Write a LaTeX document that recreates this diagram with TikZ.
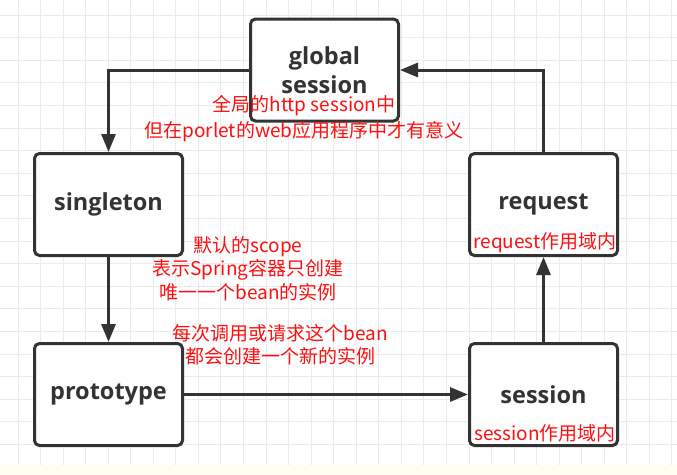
\documentclass[tikz,border=0pt]{standalone}
\usepackage{fontspec}
\usetikzlibrary{arrows.meta}
\newfontfamily\cjk{Noto Sans CJK SC}
\newfontfamily\labfont{Open Sans}
\definecolor{boxline}{HTML}{333333}
\definecolor{gridc}{HTML}{EBEBEB}
\definecolor{strip}{HTML}{FFFDF0}
\definecolor{notered}{HTML}{FF1010}
\tikzset{
  scopebox/.style={draw=boxline, line width=3pt, rounded corners=5pt, fill=white,
    minimum width=148pt, minimum height=102pt, inner sep=0pt,
    font=\labfont\bfseries\fontsize{23.5}{29}\selectfont, text=boxline, align=center},
  conn/.style={draw=boxline, line width=3pt, -{Triangle[length=18pt,width=14pt]}},
  note/.style={inner sep=0pt, text=notered, align=center, font=\cjk\fontsize{19}{23.5}\selectfont},
  gridline/.style={draw=gridc, line width=1pt}
}
\begin{document}
\begin{tikzpicture}[x=1pt,y=-1pt]
\useasboundingbox (0,0) rectangle (677,474);
\fill[white] (0,0) rectangle (677,474);
\fill[strip] (0,465) rectangle (677,474);
\foreach \i in {0,...,29} \draw[gridline] ({18+22.55*\i},0) -- ({18+22.55*\i},465);
\foreach \j in {0,...,19} \draw[gridline] (0,{15+22.6*\j}) -- (677,{15+22.6*\j});

\node[scopebox] (global) at (324.5,70) {global\\session};
\node[scopebox] (singleton) at (108.5,204.5) {singleton};
\node[scopebox] (request) at (543.5,204.5) {request};
\node[scopebox] (prototype) at (108.5,394.5) {prototype};
\node[scopebox] (session) at (543.5,394.5) {session};

\draw[conn] (global.west) -| (singleton.north);
\draw[conn] (request.north) |- (global.east);
\draw[conn] (singleton.south) -- (prototype.north);
\draw[conn] (prototype.east) -- (session.west);
\draw[conn] (session.north) -- (request.south);

\node[note, font=\cjk\fontsize{19}{26}\selectfont] (gsnote) at (304,119) {全局的http session中\\但在porlet的web应用程序中才有意义};
\node[note] (snote) at (248,268.5) {默认的scope\\表示Spring容器只创建\\唯一一个bean的实例};
\node[note] (pnote) at (280,344.5) {每次调用或请求这个bean\\都会创建一个新的实例};
\node[note] (rnote) at (545,243) {request作用域内};
\node[note] (sesnote) at (545,433) {session作用域内};
\end{tikzpicture}
\end{document}
